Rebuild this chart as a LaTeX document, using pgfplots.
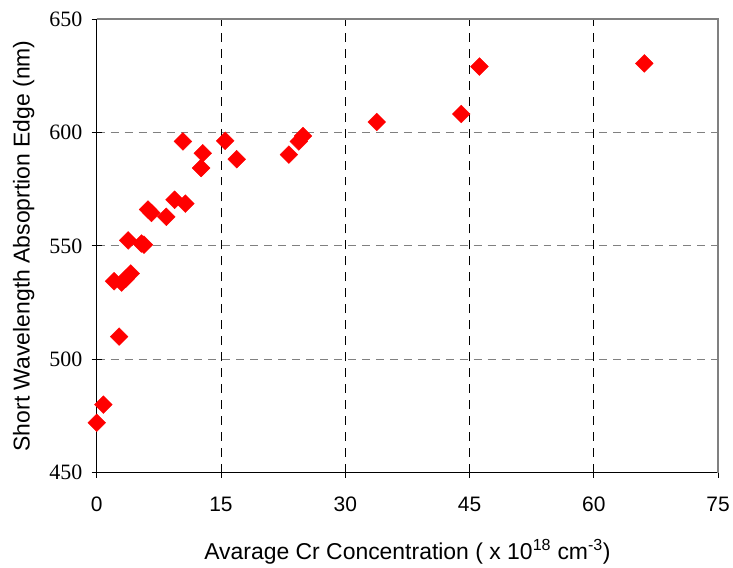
\documentclass[border=0pt]{standalone}
\usepackage{pgfplots}
\pgfplotsset{compat=1.18}
\usepackage{fontspec}
\setmainfont{Liberation Sans}
\newfontfamily\timesf{Liberation Serif}
\begin{document}
\begin{tikzpicture}
\begin{axis}[
  name=ax,
  scale only axis,
  width=623pt, height=455pt,
  xmin=0, xmax=75, ymin=450, ymax=650,
  xtick={0,15,...,75}, ytick={450,500,...,650},
  /pgf/number format/assume math mode=true,
  xticklabel style={font=\fontsize{21}{21}\selectfont, yshift=-16pt},
  yticklabel style={font=\timesf\fontsize{22}{22}\selectfont, xshift=-6pt},
  xlabel={Avarage Cr Concentration ( x 10\textsuperscript{18} cm\textsuperscript{-3})},
  ylabel={Short Wavelength Absoprtion Edge (nm)},
  xlabel style={font=\fontsize{23}{23}\selectfont, yshift=-20pt},
  ylabel style={font=\fontsize{23}{23}\selectfont, yshift=8pt},
  axis x line*=bottom, axis y line*=left,
  axis line style={black, line width=1.2pt, -},
  tick align=center, major tick length=10pt,
  tick style={black, line width=0.8pt},
  grid=major,
  xmajorgrids, ymajorgrids,
  x grid style={black, line width=0.8pt, dash pattern=on 9pt off 7pt},
  y grid style={gray, line width=1pt, dash pattern=on 8pt off 6pt},
]
\addplot[only marks, mark=square*, mark size=6.3pt, color=red,
  mark options={rotate=45, fill=red, draw=red}] coordinates {
  (0,472) (0.8,480) (2.7,510)
  (2.1,534.4) (3.0,533.8) (3.5,535.5) (4.1,537.8)
  (3.8,552.4) (5.4,551) (5.7,550.5)
  (6.2,566) (6.6,564.5) (8.4,562.8) (9.4,570.3) (10.7,568.6)
  (10.4,596) (12.8,590.8) (12.6,584.3) (15.5,596.3) (16.9,588.2)
  (23.2,590.2) (24.4,596) (24.9,598.4) (33.8,604.6)
  (44.0,608.1) (46.2,629) (66.1,630.4)
};
\end{axis}
\draw[gray, line width=1.2pt] (ax.north west) -- (ax.north east) -- (ax.south east);
\path ([xshift=-97pt,yshift=-89pt]ax.south west) rectangle ([xshift=13pt,yshift=19pt]ax.north east);
\end{tikzpicture}
\end{document}
